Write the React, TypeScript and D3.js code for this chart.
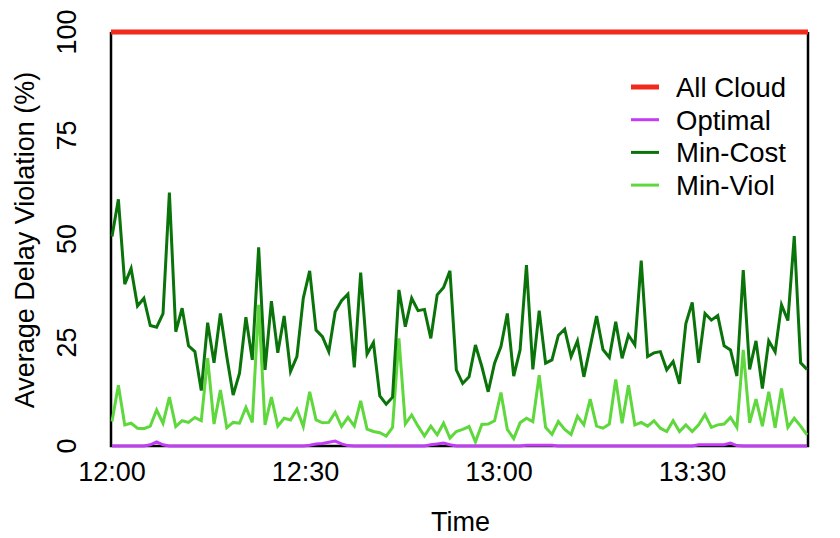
import React from "react";
import * as d3 from "d3";

// ---- Data ----
const yTicks = [0, 25, 50, 75, 100];
const xTickLabels = ["12:00", "12:30", "13:00", "13:30"];
const xTickMinutes = [0, 30, 60, 90];
const seriesNames = ["All Cloud", "Optimal", "Min-Cost", "Min-Viol"];
const seriesColors = ["#f02a1c", "#c43cf6", "#0a740a", "#5ed83c"];

const allCloud = [
  100, 100, 100, 100, 100, 100, 100, 100, 100, 100,
  100, 100, 100, 100, 100, 100, 100, 100, 100, 100,
  100, 100, 100, 100, 100, 100, 100, 100, 100, 100,
  100, 100, 100, 100, 100, 100, 100, 100, 100, 100,
  100, 100, 100, 100, 100, 100, 100, 100, 100, 100,
  100, 100, 100, 100, 100, 100, 100, 100, 100, 100,
  100, 100, 100, 100, 100, 100, 100, 100, 100, 100,
  100, 100, 100, 100, 100, 100, 100, 100, 100, 100,
  100, 100, 100, 100, 100, 100, 100, 100, 100, 100,
  100, 100, 100, 100, 100, 100, 100, 100, 100, 100,
  100, 100, 100, 100, 100, 100, 100, 100, 100, 100,
];

const optimal = [
  0, 0, 0, 0, 0, 0, 0.3, 1.0, 0.3, 0,
  0, 0, 0, 0, 0, 0, 0, 0, 0, 0,
  0, 0, 0, 0, 0, 0, 0, 0, 0, 0,
  0, 0.2, 0.5, 0.6, 0.9, 1.2, 0.5, 0.1, 0, 0,
  0, 0, 0, 0, 0, 0, 0, 0, 0, 0,
  0.3, 0.5, 0.7, 0.3, 0, 0, 0, 0, 0, 0,
  0, 0, 0, 0, 0, 0.2, 0.2, 0.2, 0.2, 0.2,
  0, 0, 0, 0, 0, 0, 0, 0, 0, 0,
  0, 0, 0, 0, 0, 0, 0, 0, 0, 0,
  0, 0, 0.3, 0.3, 0.3, 0.3, 0.3, 0.7, 0.1, 0,
  0, 0, 0, 0, 0, 0, 0, 0, 0, 0,
];

const minCost = [
  50.6, 59.6, 39.1, 42.9, 33.8, 35.7, 29.1, 28.7, 32.0, 61.2,
  27.6, 33.3, 24.2, 22.8, 13.4, 29.8, 20.1, 32.0, 21.6, 12.3,
  17.6, 31.1, 20.8, 48.0, 18.4, 35.0, 22.5, 31.4, 18.0, 21.6,
  35.7, 42.3, 28.0, 26.4, 22.8, 32.4, 35.1, 36.7, 19.0, 41.9,
  22.2, 25.0, 12.1, 10.1, 11.8, 37.7, 28.8, 35.7, 32.7, 33.0,
  26.0, 36.5, 38.3, 42.3, 18.4, 15.1, 16.7, 24.4, 19.2, 13.1,
  20.0, 24.0, 32.0, 16.9, 23.2, 43.7, 18.5, 32.7, 20.0, 20.8,
  26.7, 28.2, 21.6, 25.4, 16.7, 24.0, 31.4, 23.3, 21.4, 30.0,
  21.2, 26.8, 24.4, 44.8, 21.6, 22.5, 22.8, 18.4, 20.4, 15.0,
  29.6, 34.7, 20.1, 32.0, 30.4, 31.5, 24.2, 23.2, 16.9, 42.5,
  18.5, 25.4, 13.9, 25.4, 22.7, 34.1, 30.3, 50.7, 20.1, 18.5,
];

const minViol = [
  5.9, 14.7, 5.1, 5.5, 4.3, 4.2, 4.8, 8.7, 5.5, 11.8,
  4.7, 6.1, 5.7, 6.9, 6.1, 21.2, 5.3, 13.5, 4.4, 5.7,
  5.5, 9.3, 5.7, 34.1, 5.1, 11.8, 4.8, 6.7, 6.3, 8.9,
  4.7, 13.1, 6.3, 5.6, 5.7, 8.1, 4.7, 6.9, 4.8, 10.9,
  4.1, 3.5, 3.2, 2.4, 4.5, 26.0, 5.3, 7.5, 4.8, 2.4,
  4.8, 2.7, 5.5, 1.9, 3.5, 4.0, 4.7, 1.0, 5.2, 5.3,
  6.1, 12.9, 4.0, 1.8, 5.6, 6.7, 5.9, 17.1, 4.5, 2.8,
  5.9, 4.0, 2.8, 7.2, 5.1, 11.3, 4.8, 4.3, 5.3, 16.1,
  5.5, 14.7, 5.1, 5.7, 4.8, 6.1, 4.3, 3.5, 6.1, 3.5,
  5.1, 3.5, 5.1, 7.6, 4.5, 5.1, 5.3, 6.9, 4.5, 23.2,
  5.6, 11.3, 4.8, 13.1, 4.4, 13.9, 4.5, 6.7, 4.8, 2.7,
];

// sampling: one sample roughly every 59.3 seconds starting at 12:00
const sampleStepMin = 0.9885;
const startTime = new Date(2020, 0, 1, 12, 0, 0);

const W = 840;
const H = 538;
const PL = 111;
const PR = 808;
const PT = 32;
const PB = 446;
const FONT = "'Liberation Sans', Arial, Helvetica, sans-serif";

export default function App() {
  const times = minCost.map(
    (_, i) => new Date(startTime.getTime() + i * sampleStepMin * 60000)
  );
  const x = d3
    .scaleTime()
    .domain([startTime, new Date(startTime.getTime() + 107.9 * 60000)])
    .range([PL + 1, PR]);
  const y = d3.scaleLinear().domain([0, 100]).range([PB, PT]);

  const line = d3
    .line<number>()
    .x((_, i) => x(times[i]))
    .y((d) => y(d));

  const series = [allCloud, optimal, minCost, minViol];
  const widths = [5, 3, 3, 3];
  const drawOrder = [3, 2, 1, 0];

  const legendX0 = 631;
  const legendX1 = 659;
  const legendY0 = 87;
  const legendDy = 32.7;

  return (
    <svg
      width={W}
      height={H}
      style={{ position: "absolute", left: 0, top: 0, background: "#fff" }}
      fontFamily={FONT}
    >
      <rect x={0} y={0} width={W} height={H} fill="#fff" />
      {/* frame */}
      <path
        d={`M${PL},${PT} L${PL},${PB} L${PR},${PB} L${PR},${PT}`}
        fill="none"
        stroke="#000"
        strokeWidth={2.5}
      />
      {/* series */}
      {drawOrder.map((k) => (
        <path
          key={seriesNames[k]}
          d={
            k === 0
              ? `M${PL},${y(100)} L${PR},${y(100)}`
              : line(series[k]) || ""
          }
          fill="none"
          stroke={seriesColors[k]}
          strokeWidth={widths[k]}
          strokeLinejoin="miter"
          strokeMiterlimit={4}
        />
      ))}
      {/* y ticks */}
      {yTicks.map((t) => (
        <text
          key={t}
          transform={`translate(76,${y(t)}) rotate(-90)`}
          textAnchor="middle"
          fontSize={27}
          fill="#000"
        >
          {t}
        </text>
      ))}
      {/* x ticks */}
      {xTickMinutes.map((m, i) => (
        <text
          key={m}
          x={x(new Date(startTime.getTime() + m * 60000))}
          y={481}
          textAnchor="middle"
          fontSize={27}
          fill="#000"
        >
          {xTickLabels[i]}
        </text>
      ))}
      {/* axis titles */}
      <text x={(PL + PR) / 2 + 1} y={531} textAnchor="middle" fontSize={27}>
        Time
      </text>
      <text
        transform={`translate(34,${(PT + PB) / 2 + 1}) rotate(-90)`}
        textAnchor="middle"
        fontSize={27}
      >
        Average Delay Violation (%)
      </text>
      {/* legend */}
      {seriesNames.map((n, k) => (
        <g key={n}>
          <line
            x1={legendX0}
            x2={legendX1}
            y1={legendY0 + k * legendDy}
            y2={legendY0 + k * legendDy}
            stroke={seriesColors[k]}
            strokeWidth={widths[k]}
          />
          <text
            x={676}
            y={legendY0 + k * legendDy + 10}
            fontSize={27.5}
            fill="#000"
          >
            {n}
          </text>
        </g>
      ))}
    </svg>
  );
}
